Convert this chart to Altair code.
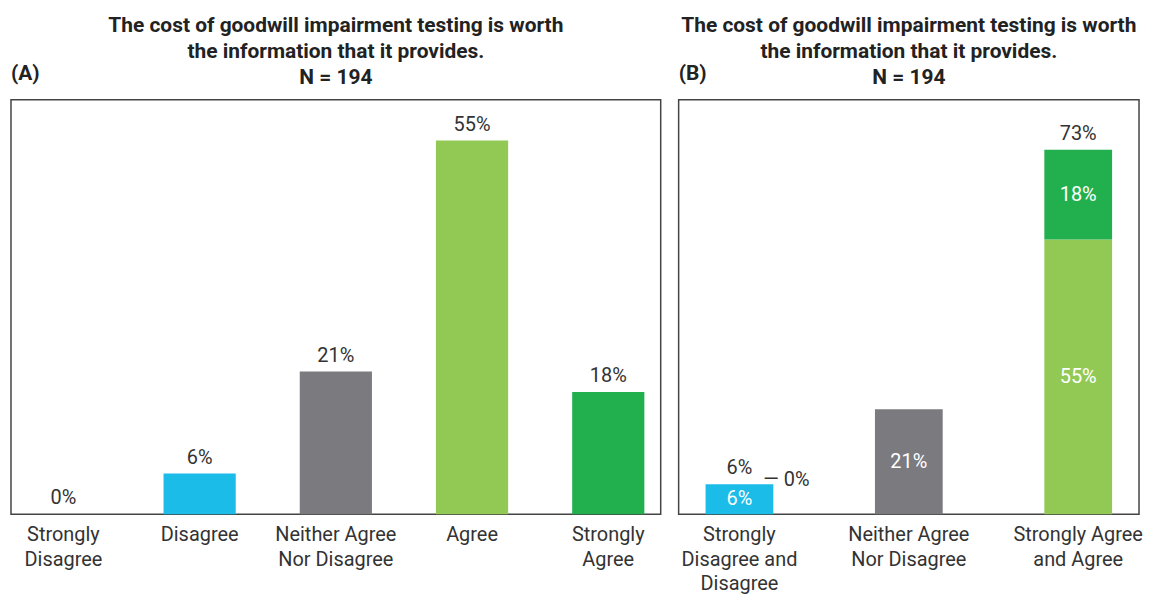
import altair as alt
import pandas as pd

# ---------------- data ----------------
title_lines = ["The cost of goodwill impairment testing is worth",
               "the information that it provides.",
               "N = 194"]
panel_labels = ["(A)", "(B)"]

cats_a = ["Strongly\nDisagree", "Disagree", "Neither Agree\nNor Disagree", "Agree", "Strongly\nAgree"]
vals_a = [0, 6, 21, 55, 18]
colors_a = ["#1BBCE8", "#1BBCE8", "#7B7A7F", "#92C955", "#22B04E"]

groups_b = ["Strongly\nDisagree and\nDisagree", "Neither Agree\nNor Disagree", "Strongly Agree\nand Agree"]
seg_group_b = [groups_b[0], groups_b[0], groups_b[1], groups_b[2], groups_b[2]]
seg_name_b = ["Disagree", "Strongly Disagree", "Neither", "Agree", "Strongly Agree"]
seg_val_b = [6, 0, 21, 55, 18]
seg_order_b = [0, 1, 0, 0, 1]
seg_colors_b = ["#1BBCE8", "#1BBCE8", "#7B7A7F", "#92C955", "#22B04E"]

FONT = "Roboto"
TXT = "#333333"
LBL = 20

df_a = pd.DataFrame({"cat": cats_a, "value": vals_a})
df_b = pd.DataFrame({"group": seg_group_b, "seg": seg_name_b, "value": seg_val_b, "ord": seg_order_b})

label_expr = "split(datum.label, '\\n')"


def x_axis():
    return alt.Axis(labelAngle=0, labelExpr=label_expr, ticks=False, domain=False,
                    labelFontSize=LBL, labelFont=FONT, labelColor=TXT,
                    labelLineHeight=25, labelPadding=10, labelBaseline="top")


def tag(label):
    return alt.Chart(pd.DataFrame({"t": [label]})).mark_text(
        align="left", baseline="middle", fontSize=21, fontWeight="bold", font=FONT,
        color="#222222").encode(text="t:N", x=alt.value(0), y=alt.value(-26))


# ---------------- panel A ----------------
xa = alt.X("cat:N", sort=cats_a, title=None,
           scale=alt.Scale(paddingInner=0.47, paddingOuter=0.12), axis=x_axis())
ya = alt.Y("value:Q", scale=alt.Scale(domain=[0, 61], nice=False), axis=None)

base_a = alt.Chart(df_a)
bars_a = base_a.mark_bar().encode(
    x=xa, y=ya,
    color=alt.Color("cat:N", scale=alt.Scale(domain=cats_a, range=colors_a), legend=None))
text_a = base_a.mark_text(baseline="bottom", dy=-6, fontSize=LBL, font=FONT, color=TXT).encode(
    x=alt.X("cat:N", sort=cats_a), y=ya,
    text=alt.Text("label:N")).transform_calculate(label="datum.value + '%'")

chart_a = alt.layer(bars_a, text_a, tag(panel_labels[0])).properties(
    width=652, height=416,
    title=alt.TitleParams(text=title_lines))

# ---------------- panel B ----------------
xb = alt.X("group:N", sort=groups_b, title=None,
           scale=alt.Scale(paddingInner=0.6, paddingOuter=0.159), axis=x_axis())
yscale_b = alt.Scale(domain=[0, 83], nice=False)

base_b = alt.Chart(df_b).transform_stack(
    stack="value", groupby=["group"], sort=[alt.SortField("ord", order="ascending")],
    as_=["v0", "v1"]).transform_calculate(mid="(datum.v0 + datum.v1) / 2",
                                           label="datum.value + '%'")

bars_b = base_b.mark_bar().encode(
    x=xb,
    y=alt.Y("v0:Q", scale=yscale_b, axis=None),
    y2="v1:Q",
    color=alt.Color("seg:N", scale=alt.Scale(domain=seg_name_b, range=seg_colors_b), legend=None))
inner_b = base_b.transform_filter("datum.value > 0").mark_text(
    baseline="middle", fontSize=LBL, font=FONT, color="white").encode(
    x=alt.X("group:N", sort=groups_b),
    y=alt.Y("mid:Q", scale=yscale_b),
    text="label:N")
zero_b = base_b.transform_filter("datum.value == 0").transform_calculate(
    zlabel="'\u2014 ' + datum.value + '%'").mark_text(
    align="left", baseline="middle", dx=24, dy=-4, fontSize=LBL, font=FONT, color=TXT).encode(
    x=alt.X("group:N", sort=groups_b),
    y=alt.Y("v1:Q", scale=yscale_b),
    text="zlabel:N")
totals_b = alt.Chart(df_b).transform_aggregate(
    total="sum(value)", n="count()", groupby=["group"]).transform_filter(
    "datum.n > 1").transform_calculate(tlabel="datum.total + '%'").mark_text(
    baseline="bottom", dy=-6, fontSize=LBL, font=FONT, color=TXT).encode(
    x=alt.X("group:N", sort=groups_b),
    y=alt.Y("total:Q", scale=yscale_b),
    text="tlabel:N")

chart_b = alt.layer(bars_b, inner_b, zero_b, totals_b, tag(panel_labels[1])).properties(
    width=462, height=416,
    title=alt.TitleParams(text=title_lines))

chart = alt.hconcat(chart_a, chart_b, spacing=16).resolve_scale(
    color="independent"
).properties(
    padding={"left": 2, "top": 5, "right": 0, "bottom": 0}
).configure_view(
    stroke="#444444", strokeWidth=1.5
).configure_title(
    font=FONT, fontSize=21, fontWeight="bold", color="#222222",
    lineHeight=26, offset=-25, anchor="middle"
)

chart.save("out.html", embed_options={"renderer": "svg", "actions": False})
